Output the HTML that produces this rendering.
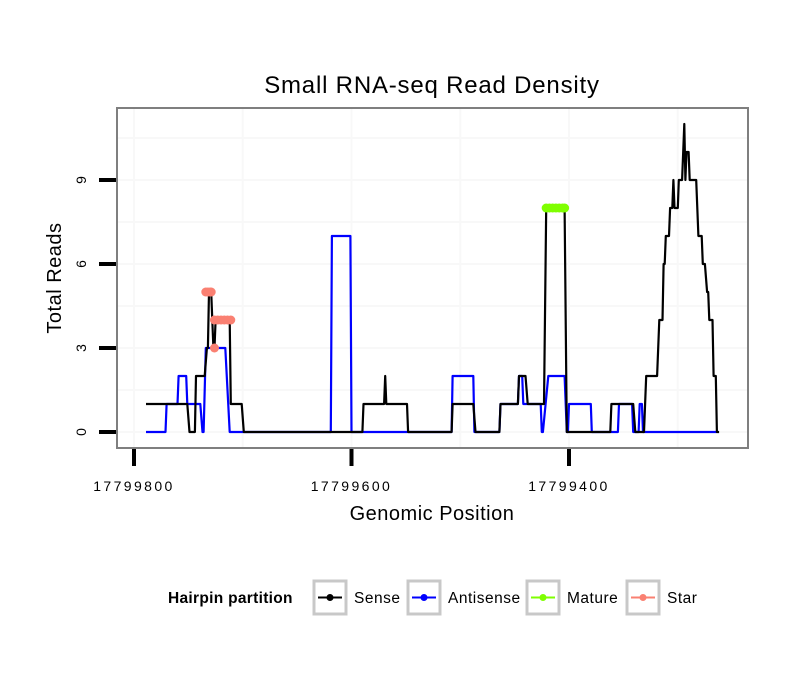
<!DOCTYPE html>
<html><head><meta charset="utf-8"><style>
body{margin:0;background:#fff;}
svg text{font-family:"Liberation Sans",sans-serif;}
</style></head><body>
<svg id="chart" width="810" height="690" viewBox="0 0 810 690" xmlns="http://www.w3.org/2000/svg">
<rect width="810" height="690" fill="#fff"/>
<text x="432" y="93" font-size="24" letter-spacing="0.8" text-anchor="middle">Small RNA-seq Read Density</text>
<g id="grid"></g>
<g id="series"></g>
<rect x="117" y="108" width="631" height="340" fill="none" stroke="#7f7f7f" stroke-width="2"/>
<g id="axes"></g>
<text x="432" y="520" font-size="20" letter-spacing="0.5" text-anchor="middle">Genomic Position</text>
<text transform="translate(61,278) rotate(-90)" font-size="20" letter-spacing="0.5" text-anchor="middle">Total Reads</text>
<g>
<text x="168" y="603" font-size="15.5" font-weight="bold" letter-spacing="0.3">Hairpin partition</text>
<g><rect x="314" y="581" width="32" height="33" fill="#fff" stroke="#c8c8c8" stroke-width="3"/><line x1="318" y1="597.5" x2="342" y2="597.5" stroke="#000" stroke-width="2"/><circle cx="330" cy="597.5" r="3.5" fill="#000"/><text x="354" y="603" font-size="15.5" letter-spacing="0.5">Sense</text></g>
<g><rect x="408" y="581" width="32" height="33" fill="#fff" stroke="#c8c8c8" stroke-width="3"/><line x1="412" y1="597.5" x2="436" y2="597.5" stroke="#0000ff" stroke-width="2"/><circle cx="424" cy="597.5" r="3.5" fill="#0000ff"/><text x="448" y="603" font-size="15.5" letter-spacing="0.5">Antisense</text></g>
<g><rect x="527" y="581" width="32" height="33" fill="#fff" stroke="#c8c8c8" stroke-width="3"/><line x1="531" y1="597.5" x2="555" y2="597.5" stroke="#7fff00" stroke-width="2"/><circle cx="543" cy="597.5" r="3.5" fill="#7fff00"/><text x="567" y="603" font-size="15.5" letter-spacing="0.5">Mature</text></g>
<g><rect x="627" y="581" width="32" height="33" fill="#fff" stroke="#c8c8c8" stroke-width="3"/><line x1="631" y1="597.5" x2="655" y2="597.5" stroke="#fa8072" stroke-width="2"/><circle cx="643" cy="597.5" r="3.5" fill="#fa8072"/><text x="667" y="603" font-size="15.5" letter-spacing="0.5">Star</text></g>
</g>
</svg>
<script>
const xTicks = [17799800, 17799600, 17799400];
const xTickLabels = ["17799800", "17799600", "17799400"];
const xMinor = [17799700, 17799500, 17799300];
const yTicks = [0, 3, 6, 9];
const yTickLabels = ["0", "3", "6", "9"];
const yMinor = [1.5, 4.5, 7.5, 10.5];
const sensePos = [17799789,17799751,17799749,17799744,17799743,17799735,17799733,17799732,17799731,17799729,17799727,17799726,17799725,17799712,17799711,17799701,17799699,17799590,17799589,17799570,17799569,17799568,17799549,17799548,17799508,17799507,17799488,17799486,17799464,17799463,17799447,17799446,17799440,17799438,17799423,17799421,17799404,17799402,17799362,17799361,17799341,17799339,17799331,17799329,17799319,17799317,17799314,17799313,17799312,17799311,17799308,17799307,17799305,17799304,17799303,17799300,17799299,17799296,17799294,17799293,17799292,17799290,17799289,17799283,17799281,17799278,17799277,17799275,17799273,17799272,17799271,17799268,17799267,17799265,17799264,17799262];
const senseVal = [1,1,0,0,2,2,3,3,5,5,3,3,4,4,1,1,0,0,1,1,2,1,1,0,0,1,1,0,0,1,1,2,2,1,1,8,8,0,0,1,1,0,0,2,2,4,4,6,6,7,7,8,8,9,8,8,9,9,11,9,10,10,9,9,7,7,6,6,5,5,4,4,2,2,0,0];
const antiPos = [17799789,17799771,17799770,17799760,17799759,17799752,17799751,17799739,17799737,17799736,17799734,17799716,17799712,17799619,17799618,17799601,17799600,17799508,17799507,17799488,17799487,17799464,17799463,17799447,17799446,17799443,17799442,17799426,17799425,17799424,17799419,17799404,17799402,17799401,17799400,17799380,17799379,17799355,17799354,17799342,17799341,17799336,17799335,17799333,17799332,17799264];
const antiVal = [0,0,1,1,2,2,1,1,0,0,3,3,0,0,7,7,0,0,2,2,0,0,1,1,2,2,1,1,0,0,2,2,0,0,1,1,0,0,1,1,0,0,1,1,0,0];
const maturePos = [17799421,17799418,17799415,17799412,17799409,17799406,17799404];
const matureVal = [8,8,8,8,8,8,8];
const starPos = [17799734,17799732,17799730,17799729,17799726,17799726,17799723,17799720,17799717,17799714,17799711];
const starVal = [5,5,5,5,3,4,4,4,4,4,4];

const NS = "http://www.w3.org/2000/svg";
function xs(g){ return 134 + (17799800 - g) * 217.5 / 200; }
function ys(v){ return 432 - v * 28; }
function mk(tag, attrs, parent){ const e = document.createElementNS(NS, tag); for (const k in attrs) e.setAttribute(k, attrs[k]); parent.appendChild(e); return e; }

const grid = document.getElementById('grid');
const axes = document.getElementById('axes');
const series = document.getElementById('series');
yMinor.concat(yTicks).forEach(v => {
  const l = mk('line', {x1:118, x2:747, y1:ys(v), y2:ys(v), stroke:'#f8f8f8', 'stroke-width':2}, grid);
  
  
});
xMinor.concat(xTicks).forEach(g => {
  const l = mk('line', {x1:xs(g), x2:xs(g), y1:109, y2:447, stroke:'#f8f8f8', 'stroke-width':2}, grid);
  
  
});
yTicks.forEach((v, i) => {
  const t = mk('line', {x1:99, x2:116, y1:ys(v), y2:ys(v), stroke:'#000', 'stroke-width':4}, axes);
  
  
  const tx = mk('text', {transform:'translate(86,' + ys(v) + ') rotate(-90)', 'font-size':14, 'text-anchor':'middle'}, axes);
  tx.textContent = yTickLabels[i];
  
  
});
xTicks.forEach((g, i) => {
  const t = mk('line', {x1:xs(g), x2:xs(g), y1:449, y2:466, stroke:'#000', 'stroke-width':4}, axes);
  
  
  const tx = mk('text', {x:xs(g), y:491, 'font-size':14, 'letter-spacing':2.4, 'text-anchor':'middle'}, axes);
  tx.textContent = xTickLabels[i];
  
  
});
function line(pos, val, color, name){
  const d = pos.map((g, i) => (i ? 'L' : 'M') + xs(g).toFixed(1) + ',' + ys(val[i]).toFixed(1)).join('');
  const p = mk('path', {d:d, fill:'none', stroke:color, 'stroke-width':2.2, 'stroke-linejoin':'round'}, series);
  
  
}
function pts(pos, val, color, name){
  pos.forEach((g, i) => {
    const c = mk('circle', {cx:xs(g), cy:ys(val[i]), r:4.5, fill:color}, series);
    
    
  });
}
line(antiPos, antiVal, '#0000ff', 'antisense-line');
line(sensePos, senseVal, '#000000', 'sense-line');
pts(maturePos, matureVal, '#7fff00', 'mature-point');
pts(starPos, starVal, '#fa8072', 'star-point');
</script>
</body></html>
